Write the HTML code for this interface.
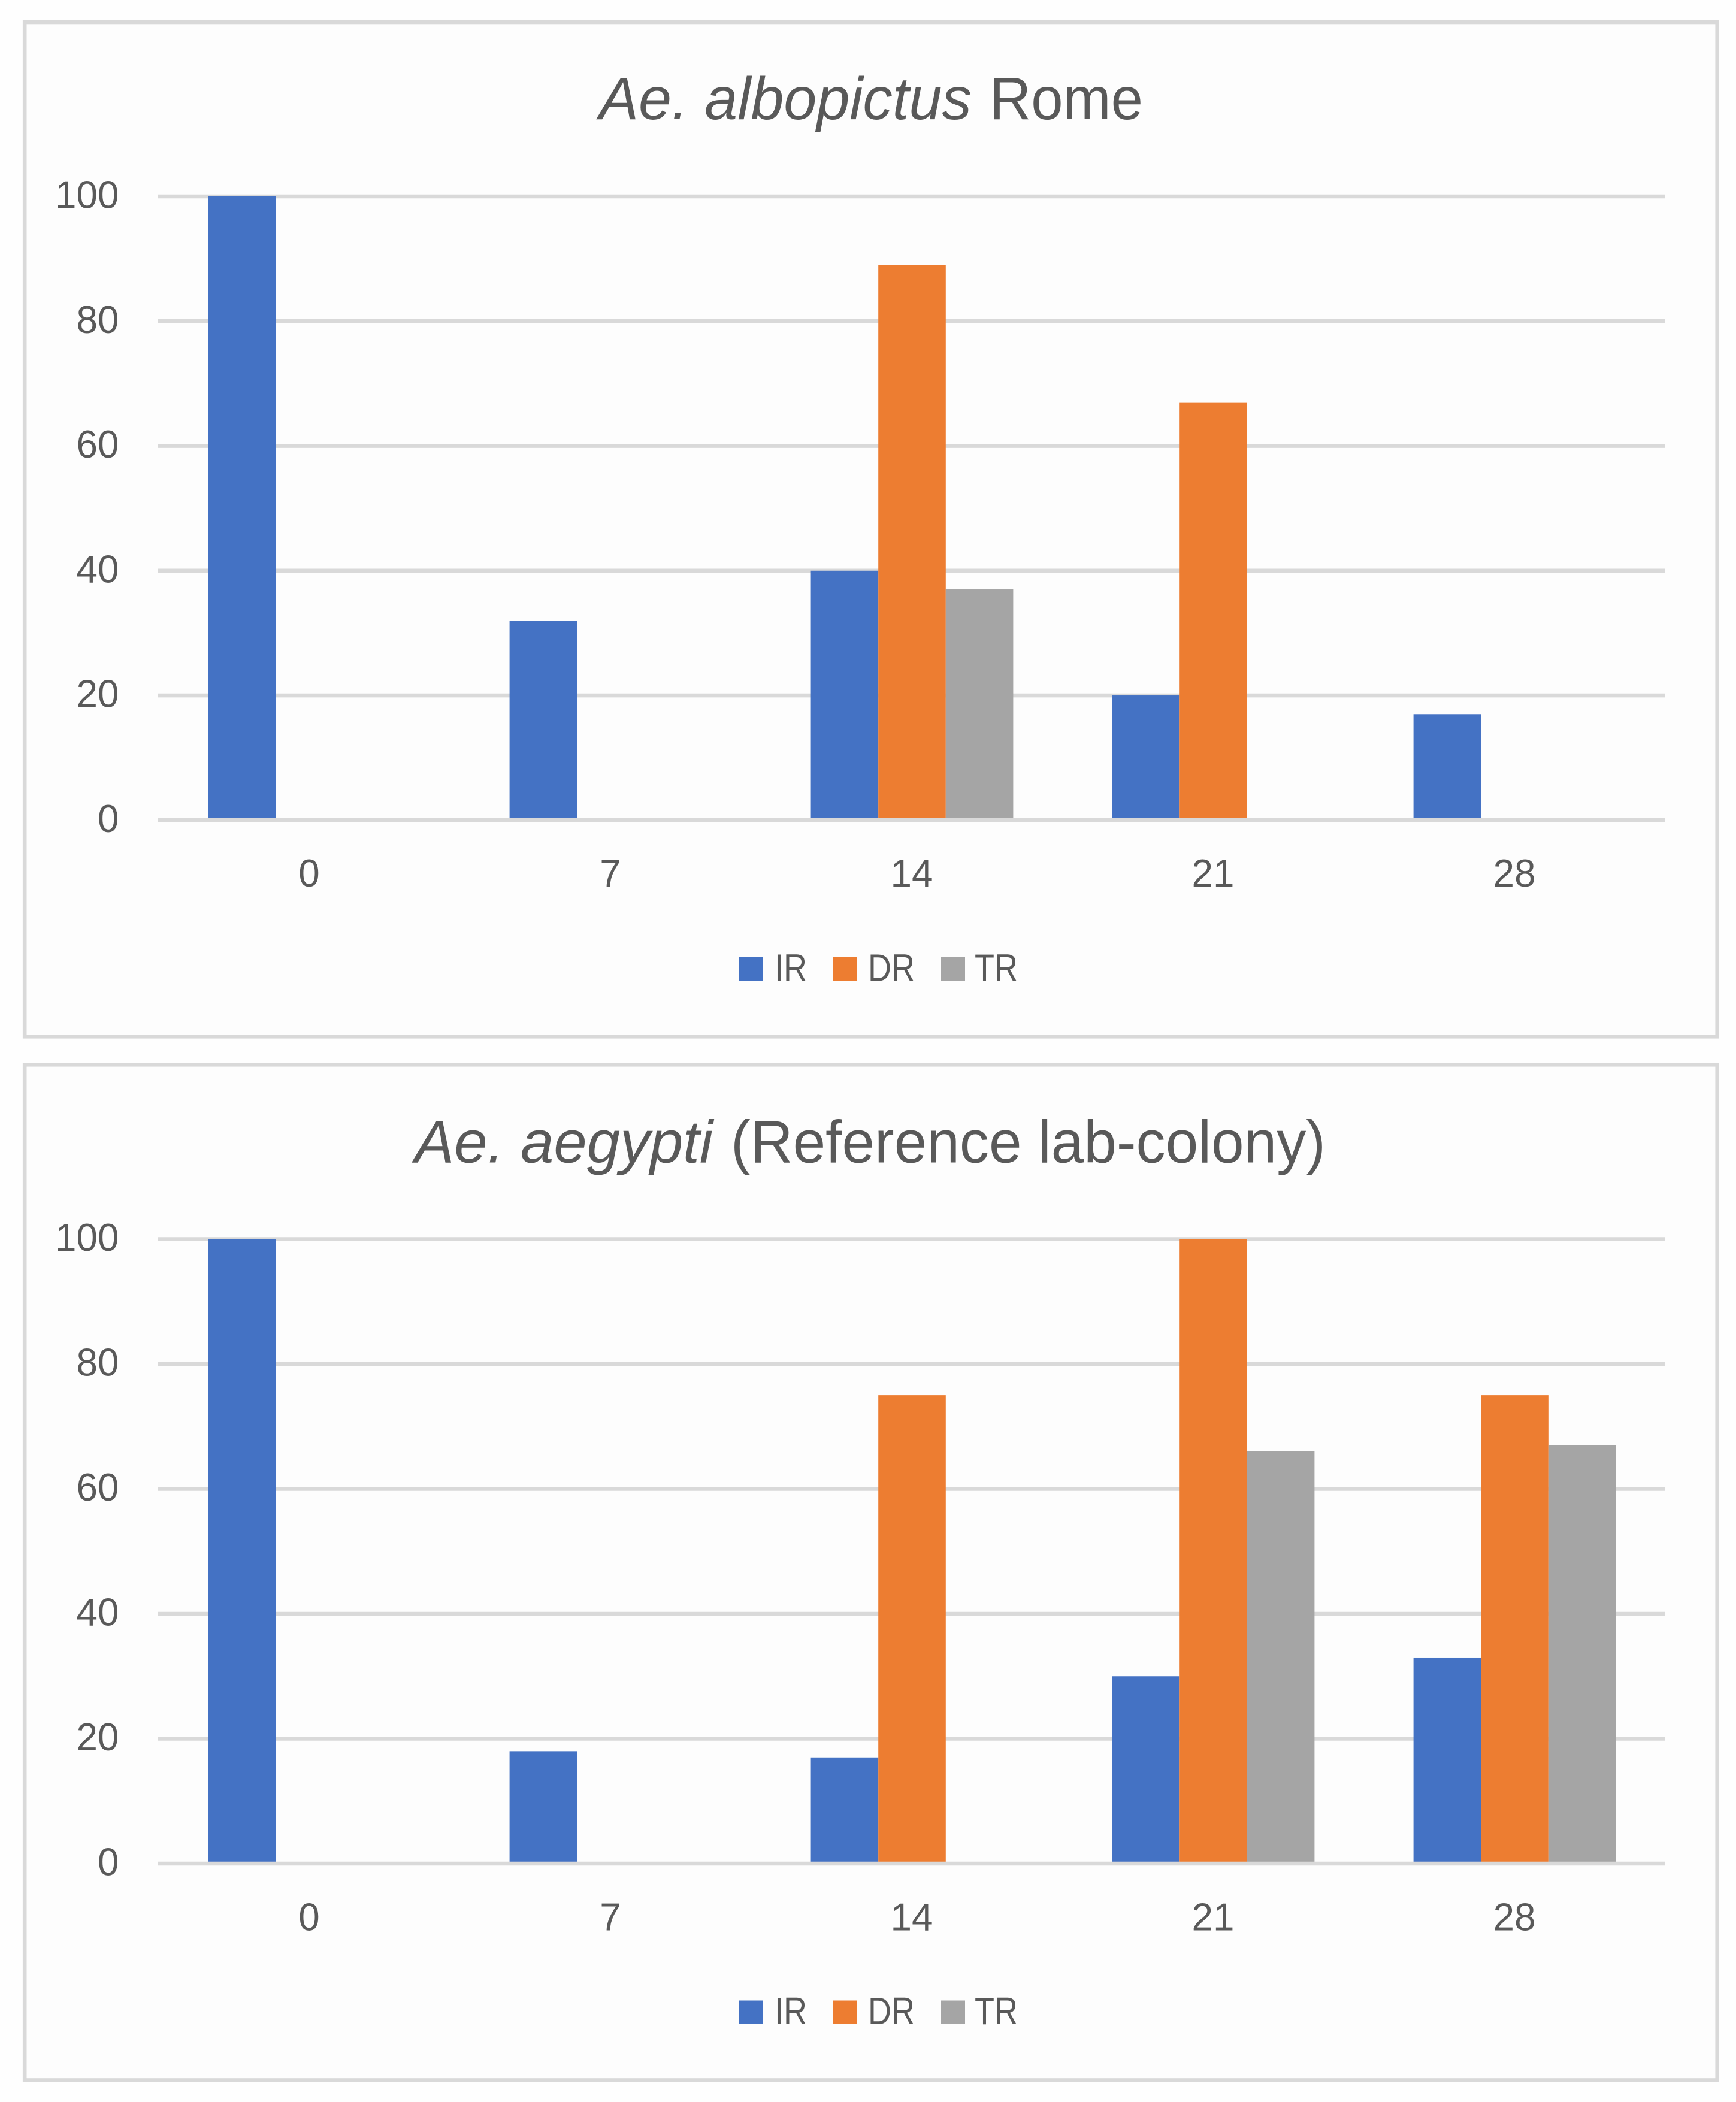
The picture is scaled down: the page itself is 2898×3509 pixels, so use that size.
<!DOCTYPE html>
<html lang="en">
<head>
<meta charset="utf-8">
<title>Ae. albopictus Rome and Ae. aegypti replication charts</title>
<style>
html,body{margin:0;padding:0;background:#fff;}
svg{display:block;}
text{font-family:"Liberation Sans",Arial,sans-serif;fill:#595959;}
</style>
</head>
<body>
<svg id="figure" xmlns="http://www.w3.org/2000/svg" width="2898" height="3509" viewBox="0 0 2898 3509">
  <rect x="0" y="0" width="2898" height="3509" fill="#fefefe"/>
  <g id="chart-a">
    <rect x="41.2" y="37" width="2825.5" height="1693.3" fill="#fdfdfd" stroke="#d9d9d9" stroke-width="6.6"/>
    <text x="1000" y="199" font-size="100" font-style="italic" textLength="622" lengthAdjust="spacingAndGlyphs">Ae. albopictus</text>
    <text x="1652" y="199" font-size="100" textLength="256" lengthAdjust="spacingAndGlyphs">Rome</text>
  </g>
  <g id="chart-b">
    <rect x="41.2" y="1777.3" width="2825.5" height="1695.2" fill="#fdfdfd" stroke="#d9d9d9" stroke-width="6.6"/>
    <text x="692" y="1940.7" font-size="100" font-style="italic" textLength="498" lengthAdjust="spacingAndGlyphs">Ae. aegypti</text>
    <text x="1220" y="1940.7" font-size="100" textLength="993" lengthAdjust="spacingAndGlyphs">(Reference lab-colony)</text>
  </g>
</svg>
<script>
// Shared chart data
const categories = ['0', '7', '14', '21', '28'];
const yTicks = [0, 20, 40, 60, 80, 100];
const seriesNames = ['IR', 'DR', 'TR'];

// Ae. albopictus Rome
const albopictusIR = [100, 32, 40, 20, 17];
const albopictusDR = [0, 0, 89, 67, 0];
const albopictusTR = [0, 0, 37, 0, 0];

// Ae. aegypti (Reference lab-colony)
const aegyptiIR = [100, 18, 17, 30, 33];
const aegyptiDR = [0, 0, 75, 100, 75];
const aegyptiTR = [0, 0, 0, 66, 67];

const NS = 'http://www.w3.org/2000/svg';
const COLORS = ['#4472C4', '#ED7D31', '#A5A5A5'];
const GRID = '#d9d9d9';
const GRID_LEFT = 264;
const PLOT_LEFT = 265;
const PLOT_RIGHT = 2780;
const BAR_W = 112.6;
const DIGIT_W = 35.5;
const TICK_FONT = 65;
const LEGEND_SWATCH_X = [1234, 1390, 1571];
const LEGEND_TEXT_X = [1293, 1449, 1627];
const LEGEND_TEXT_W = [54, 78, 72];

function make(tag, attrs, parent, text) {
  const el = document.createElementNS(NS, tag);
  for (const k in attrs) el.setAttribute(k, attrs[k]);
  if (text !== undefined) el.textContent = text;
  parent.appendChild(el);
  return el;
}

function drawChart(root, series, y0, y100, xLabelBaseline, legendBaseline) {
  const yScale = v => y0 + (y100 - y0) * v / 100;
  const band = (PLOT_RIGHT - PLOT_LEFT) / categories.length;
  const xCenter = i => PLOT_LEFT + band * (i + 0.5);

  // Gridlines (behind bars), except the zero axis
  yTicks.forEach(t => {
    if (t === 0) return;
    const line = make('line', {x1: GRID_LEFT, x2: PLOT_RIGHT, y1: yScale(t), y2: yScale(t), stroke: GRID, 'stroke-width': 6.6}, root);
    
    
  });

  // Y tick labels
  yTicks.forEach(t => {
    const label = String(t);
    const tick = make('text', {x: 198.5, y: yScale(t) + 19.5, 'font-size': TICK_FONT, 'text-anchor': 'end', textLength: DIGIT_W * label.length, lengthAdjust: 'spacingAndGlyphs'}, root, label);
    
    
  });

  // Bars
  series.forEach((values, s) => {
    values.forEach((v, i) => {
      const left = xCenter(i) - BAR_W * 1.5 + BAR_W * s;
      const top = yScale(v);
      const bar = make('rect', {x: left, y: top, width: BAR_W, height: y0 - top, fill: COLORS[s]}, root);
      
      
    });
  });

  // Zero axis on top of bars
  const axis = make('line', {x1: GRID_LEFT, x2: PLOT_RIGHT, y1: yScale(0), y2: yScale(0), stroke: GRID, 'stroke-width': 6.6}, root);
  
  

  // X tick labels
  categories.forEach((c, i) => {
    const tick = make('text', {x: xCenter(i) - 0.5, y: xLabelBaseline, 'font-size': TICK_FONT, 'text-anchor': 'middle', textLength: DIGIT_W * c.length, lengthAdjust: 'spacingAndGlyphs'}, root, c);
    
    
  });

  // Legend
  seriesNames.forEach((name, s) => {
    const swatch = make('rect', {x: LEGEND_SWATCH_X[s], y: legendBaseline - 39.5, width: 40, height: 39.5, fill: COLORS[s]}, root);
    
    
    const entry = make('text', {x: LEGEND_TEXT_X[s], y: legendBaseline, 'font-size': 64, textLength: LEGEND_TEXT_W[s], lengthAdjust: 'spacingAndGlyphs'}, root, name);
    
    
  });
}

drawChart(document.getElementById('chart-a'), [albopictusIR, albopictusDR, albopictusTR], 1369.3, 328, 1480, 1637.5);
drawChart(document.getElementById('chart-b'), [aegyptiIR, aegyptiDR, aegyptiTR], 3111, 2068.5, 3222.5, 3379);
</script>
</body>
</html>
